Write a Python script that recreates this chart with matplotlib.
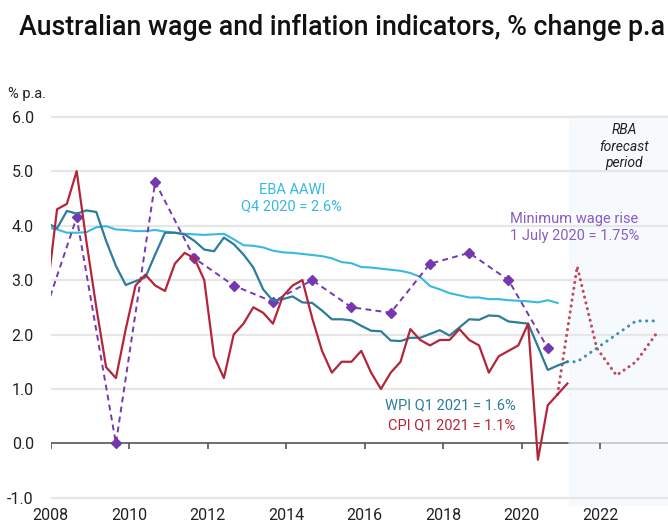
import numpy as np
import pandas as pd
import matplotlib
matplotlib.use('Agg')
import matplotlib.pyplot as plt

plt.rcParams['font.family'] = ['Roboto', 'DejaVu Sans']


def qdate(labels):
    # quarter label -> decimal year at the quarter's last month
    p = pd.PeriodIndex(labels, freq='Q')
    return p.year + (p.quarter * 3 - 1) / 12.0


# quarterly actuals
cpi_q = pd.period_range('2007Q4', '2021Q1', freq='Q')
cpi = [2.8,
       4.3, 4.4, 5.0, 3.7,
       2.5, 1.4, 1.2, 2.1,
       2.9, 3.1, 2.9, 2.8,
       3.3, 3.5, 3.4, 3.0,
       1.6, 1.2, 2.0, 2.2,
       2.5, 2.4, 2.2, 2.7,
       2.9, 3.0, 2.3, 1.7,
       1.3, 1.5, 1.5, 1.7,
       1.3, 1.0, 1.3, 1.5,
       2.1, 1.9, 1.8, 1.9,
       1.9, 2.1, 1.9, 1.8,
       1.3, 1.6, 1.7, 1.8,
       2.2, -0.3, 0.7, 0.9,
       1.1]

wpi_q = pd.period_range('2007Q4', '2021Q1', freq='Q')
wpi = [4.05,
       3.95, 4.27, 4.22, 4.28,
       4.25, 3.72, 3.26, 2.91,
       2.98, 3.05, 3.47, 3.87,
       3.87, 3.84, 3.72, 3.56,
       3.53, 3.78, 3.66, 3.47,
       3.23, 2.83, 2.62, 2.65,
       2.70, 2.59, 2.58, 2.44,
       2.28, 2.28, 2.26, 2.16,
       2.07, 2.06, 1.89, 1.88,
       1.94, 1.94, 2.01, 2.08,
       1.98, 2.13, 2.28, 2.27,
       2.35, 2.34, 2.24, 2.22,
       2.20, 1.78, 1.35, 1.43,
       1.50]

eba_q = pd.period_range('2007Q4', '2020Q4', freq='Q')
eba = [3.97,
       3.93, 3.87, 3.87, 3.88,
       3.97, 3.99, 3.93, 3.92,
       3.90, 3.90, 3.92, 3.89,
       3.87, 3.85, 3.84, 3.83,
       3.84, 3.85, 3.75, 3.64,
       3.63, 3.60, 3.54, 3.51,
       3.50, 3.48, 3.46, 3.44,
       3.40, 3.33, 3.31, 3.24,
       3.23, 3.21, 3.19, 3.17,
       3.13, 3.06, 2.89, 2.83,
       2.76, 2.72, 2.68, 2.68,
       2.65, 2.65, 2.63, 2.62,
       2.61, 2.59, 2.63, 2.58]

# annual minimum wage decisions, plotted at the Sep quarter
mw_years = list(range(2007, 2021))
min_wage = [2.0, 4.15, 0.0, 4.8, 3.4, 2.9, 2.6, 3.0, 2.5, 2.4, 3.3, 3.5, 3.0, 1.75]

# RBA forecasts
cpi_fc_q = ['2020Q4', '2021Q2', '2021Q4', '2022Q2', '2022Q4', '2023Q2']
cpi_fc = [0.9, 3.25, 1.75, 1.25, 1.5, 2.0]
wpi_fc_q = ['2021Q1', '2021Q2', '2021Q4', '2022Q2', '2022Q4', '2023Q2']
wpi_fc = [1.5, 1.5, 1.75, 2.0, 2.25, 2.25]

forecast_start = 2021.2
xticks = [2008, 2010, 2012, 2014, 2016, 2018, 2020, 2022]
yticks = [-1.0, 0.0, 1.0, 2.0, 3.0, 4.0, 5.0, 6.0]

c_cpi = '#b3263a'
c_wpi = '#2b7d99'
c_eba = '#38b9e1'
c_mw = '#7538b0'
c_mw_txt = '#8a5cc4'

fig = plt.figure(figsize=(6.68, 5.27), dpi=100)
ax = fig.add_axes([0.0756, 0.0398, 0.9244, 0.7428])
ax.set_xlim(2008, 2023.73)
ax.set_ylim(-1.15, 6.04)

ax.axvspan(forecast_start, 2030, color='#f6fafd', lw=0, zorder=0.5)
for y in yticks:
    if y != 0:
        ax.axhline(y, color='#e6e6e6', lw=1.6, zorder=1)
ax.plot([2008, forecast_start], [0, 0], color='#555555', lw=1.2, zorder=1.5)
ax.plot([forecast_start, 2030], [0, 0], color='#c4c4c4', lw=1.2, zorder=1.5)
ax.vlines(xticks, -0.11, 0, color='#555555', lw=1.2, zorder=3)

mw_x = [y + 8 / 12.0 for y in mw_years]
ax.plot(qdate(eba_q), eba, color=c_eba, lw=1.5, zorder=4)
ax.plot(mw_x, min_wage, color=c_mw, lw=1.4, ls=(0, (3, 2.2)), marker='D',
        ms=5.5, mfc=c_mw, mec=c_mw, zorder=5)
ax.plot(qdate(wpi_q), wpi, color=c_wpi, lw=1.6, zorder=6)
ax.plot(qdate(cpi_q), cpi, color=c_cpi, lw=1.6, zorder=7)
ax.plot(qdate(cpi_fc_q), cpi_fc, color='#c04a5c', lw=2.2, ls=(0, (0.05, 1.9)),
        dash_capstyle='round', zorder=4)
ax.plot(qdate(wpi_fc_q), wpi_fc, color='#3d8fb3', lw=2.2, ls=(0, (0.05, 2.1)),
        dash_capstyle='round', zorder=4)

for s in ax.spines.values():
    s.set_visible(False)
ax.set_xticks(xticks)
ax.set_xticklabels([str(t) for t in xticks])
ax.set_yticks(yticks)
ax.set_yticklabels([f'{t:.1f}' for t in yticks])
ax.tick_params(axis='x', length=0, pad=1.5, labelsize=11.5, colors='#222222')
ax.tick_params(axis='y', length=0, pad=12, labelsize=11.5, colors='#222222')

ax.text(2014.15, 4.5, 'EBA AAWI\nQ4 2020 = 2.6%', color=c_eba, ha='center',
        va='center', fontsize=10.5, linespacing=1.25)
ax.text(2019.71, 3.97, 'Minimum wage rise\n1 July 2020 = 1.75%', color=c_mw_txt,
        ha='left', va='center', fontsize=10.5, linespacing=1.25)
ax.text(2019.85, 0.70, 'WPI Q1 2021 = 1.6%', color=c_wpi, ha='right',
        va='center', fontsize=10.5)
ax.text(2019.85, 0.34, 'CPI Q1 2021 = 1.1%', color=c_cpi, ha='right',
        va='center', fontsize=10.5)
ax.text(2022.61, 5.45, 'RBA\nforecast\nperiod', color='#222222', ha='center',
        va='center', fontsize=10, style='italic', linespacing=1.2)

fig.text(0.0284, 0.9336, 'Australian wage and inflation indicators, % change p.a',
         fontsize=19.3, fontweight='medium', ha='left', va='baseline', color='#111111')
fig.text(0.012, 0.8216, '% p.a.', fontsize=10.5, ha='left', va='center',
         color='#222222')

fig.savefig('out.png', dpi=100)
